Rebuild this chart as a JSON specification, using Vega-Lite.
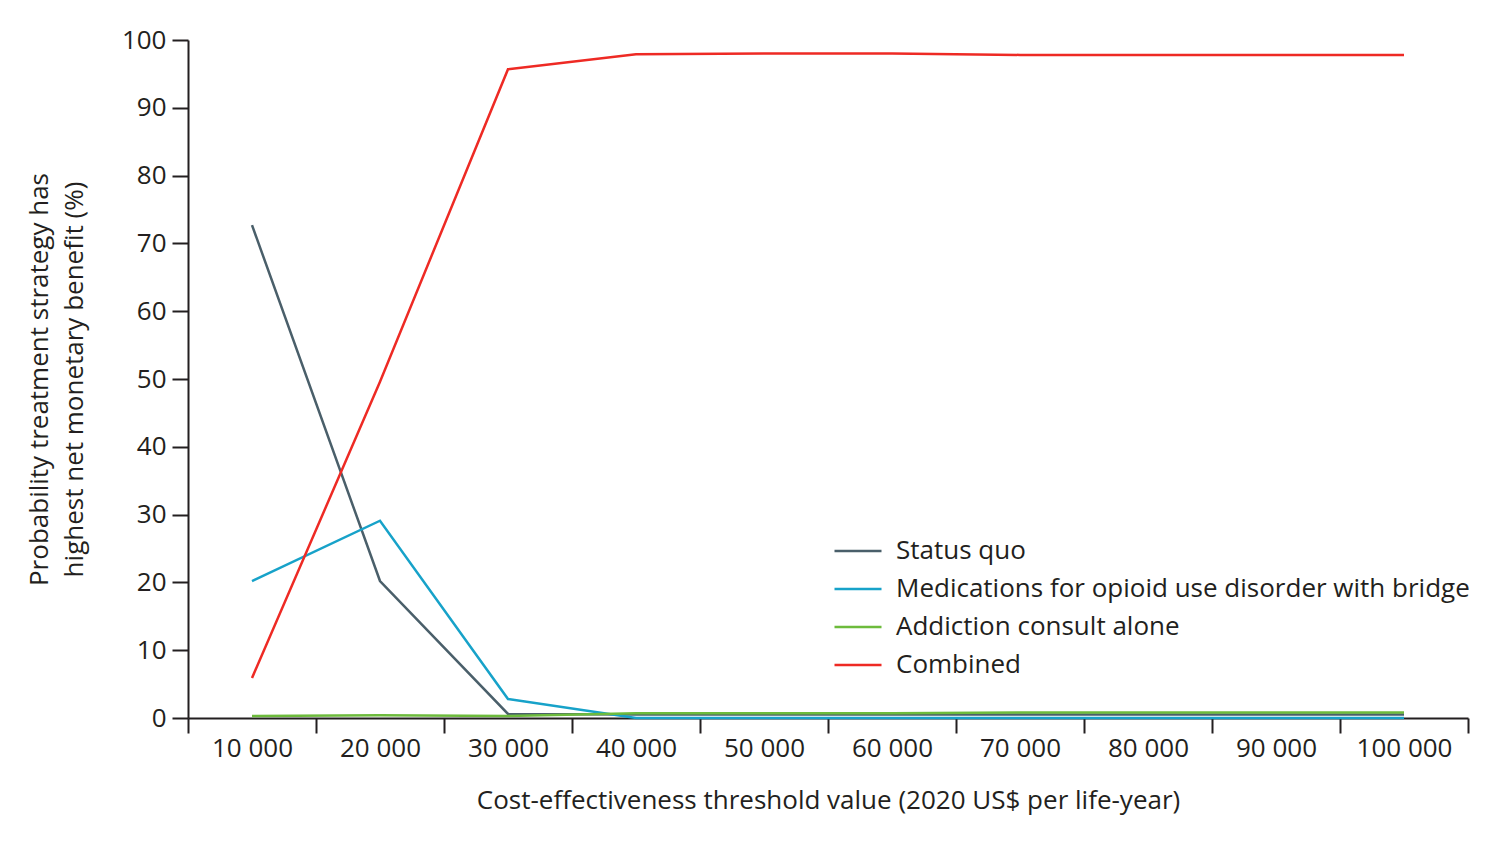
{
  "$schema": "https://vega.github.io/schema/vega-lite/v6.json",
  "autosize": {"type": "none"},
  "padding": {"left": 188, "top": 40, "right": 32, "bottom": 123},
  "width": 1280,
  "height": 678,
  "background": "white",
  "config": {
    "font": "Open Sans",
    "view": {"stroke": null},
    "axis": {"domainColor": "#231f20", "tickColor": "#231f20", "labelColor": "#231f20", "titleColor": "#231f20", "domainWidth": 2, "tickWidth": 2, "labelFontSize": 26, "titleFontSize": 26, "titleFontWeight": "normal", "grid": false, "labelFont": "Open Sans", "titleFont": "Open Sans"}
  },
  "data": {"values": [
    {"x": "10 000", "s": "Status quo", "v": 72.7},
    {"x": "20 000", "s": "Status quo", "v": 20.2},
    {"x": "30 000", "s": "Status quo", "v": 0.6},
    {"x": "40 000", "s": "Status quo", "v": 0.5},
    {"x": "50 000", "s": "Status quo", "v": 0.5},
    {"x": "60 000", "s": "Status quo", "v": 0.5},
    {"x": "70 000", "s": "Status quo", "v": 0.5},
    {"x": "80 000", "s": "Status quo", "v": 0.5},
    {"x": "90 000", "s": "Status quo", "v": 0.5},
    {"x": "100 000", "s": "Status quo", "v": 0.5},
    {"x": "10 000", "s": "Medications for opioid use disorder with bridge", "v": 20.2},
    {"x": "20 000", "s": "Medications for opioid use disorder with bridge", "v": 29.1},
    {"x": "30 000", "s": "Medications for opioid use disorder with bridge", "v": 2.8},
    {"x": "40 000", "s": "Medications for opioid use disorder with bridge", "v": 0.0},
    {"x": "50 000", "s": "Medications for opioid use disorder with bridge", "v": 0.0},
    {"x": "60 000", "s": "Medications for opioid use disorder with bridge", "v": 0.0},
    {"x": "70 000", "s": "Medications for opioid use disorder with bridge", "v": 0.0},
    {"x": "80 000", "s": "Medications for opioid use disorder with bridge", "v": 0.0},
    {"x": "90 000", "s": "Medications for opioid use disorder with bridge", "v": 0.0},
    {"x": "100 000", "s": "Medications for opioid use disorder with bridge", "v": 0.0},
    {"x": "10 000", "s": "Addiction consult alone", "v": 0.3},
    {"x": "20 000", "s": "Addiction consult alone", "v": 0.4},
    {"x": "30 000", "s": "Addiction consult alone", "v": 0.3},
    {"x": "40 000", "s": "Addiction consult alone", "v": 0.7},
    {"x": "50 000", "s": "Addiction consult alone", "v": 0.7},
    {"x": "60 000", "s": "Addiction consult alone", "v": 0.7},
    {"x": "70 000", "s": "Addiction consult alone", "v": 0.8},
    {"x": "80 000", "s": "Addiction consult alone", "v": 0.8},
    {"x": "90 000", "s": "Addiction consult alone", "v": 0.8},
    {"x": "100 000", "s": "Addiction consult alone", "v": 0.8},
    {"x": "10 000", "s": "Combined", "v": 5.9},
    {"x": "20 000", "s": "Combined", "v": 49.6},
    {"x": "30 000", "s": "Combined", "v": 95.7},
    {"x": "40 000", "s": "Combined", "v": 97.9},
    {"x": "50 000", "s": "Combined", "v": 98.0},
    {"x": "60 000", "s": "Combined", "v": 98.0},
    {"x": "70 000", "s": "Combined", "v": 97.8},
    {"x": "80 000", "s": "Combined", "v": 97.8},
    {"x": "90 000", "s": "Combined", "v": 97.8},
    {"x": "100 000", "s": "Combined", "v": 97.8}
  ]},
  "mark": {"type": "line", "strokeWidth": 2.5},
  "encoding": {
    "x": {
      "field": "x", "type": "ordinal", "bandPosition": 0.5,
      "sort": ["10 000", "20 000", "30 000", "40 000", "50 000", "60 000", "70 000", "80 000", "90 000", "100 000"],
      "scale": {"type": "band", "paddingInner": 0, "paddingOuter": 0},
      "axis": {"title": "Cost-effectiveness threshold value (2020 US$ per life-year)", "tickBand": "extent", "labelAngle": 0, "tickSize": 15, "labelPadding": 2, "titlePadding": 26}
    },
    "y": {
      "field": "v", "type": "quantitative",
      "scale": {"domain": [0, 100], "nice": false},
      "axis": {"title": ["Probability treatment strategy has", "highest net monetary benefit (%)"], "values": [0,10,20,30,40,50,60,70,80,90,100], "tickSize": 16, "labelPadding": 6, "titlePadding": 34, "titleLineHeight": 35}
    },
    "color": {
      "field": "s", "type": "nominal",
      "sort": ["Status quo", "Medications for opioid use disorder with bridge", "Addiction consult alone", "Combined"],
      "scale": {"domain": ["Status quo", "Medications for opioid use disorder with bridge", "Addiction consult alone", "Combined"], "range": ["#4a5f6a", "#17a2c9", "#6dbb3c", "#ee2a24"]},
      "legend": {"title": null, "orient": "none", "legendX": 645, "legendY": 486, "symbolType": "stroke", "symbolSize": 2209, "symbolStrokeWidth": 2.5, "labelFontSize": 26, "labelColor": "#231f20", "labelFont": "Open Sans", "labelOffset": 13, "rowPadding": 0, "labelLimit": 800}
    }
  }
}
